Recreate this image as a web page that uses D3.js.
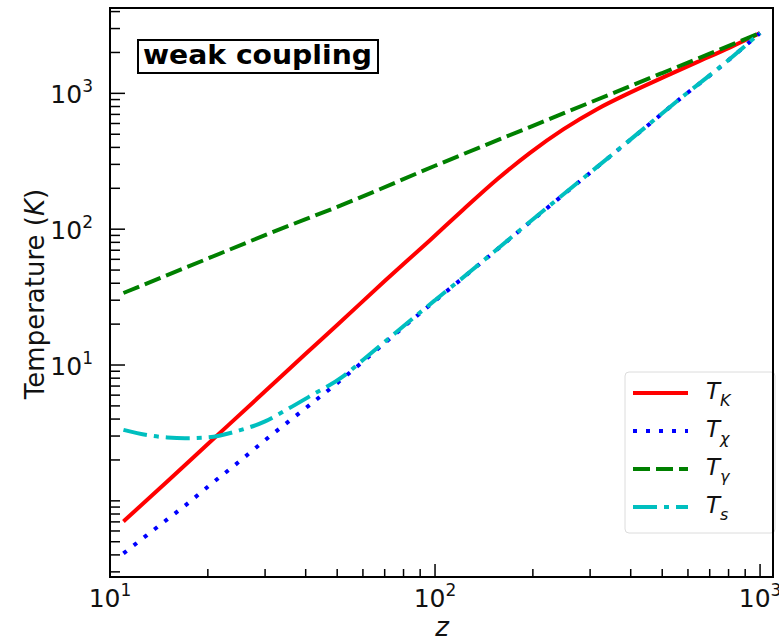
<!DOCTYPE html>
<html>
<head>
<meta charset="utf-8">
<script src="https://cdn.jsdelivr.net/npm/d3@7"></script>
<style>
  body { margin: 0; background: #fff; }
  svg { display: block; font-family: 'DejaVu Sans', sans-serif; }
</style>
</head>
<body>
<div id="chart"></div>
<script>
// values (z, temperature in K)
const zKinetic = [11, 15, 20, 30, 40, 50, 70, 96.5, 122, 155, 196, 248, 315, 398, 503, 640, 809, 1000];
const tKinetic = [0.705, 1.39, 2.62, 6.4, 12.1, 19.7, 41.5, 83, 139, 232, 365, 543, 765, 1012, 1310, 1697, 2180, 2780];

const zChi = [11, 13, 15, 17, 20, 25, 30, 35, 41, 52, 60, 70, 85, 100, 130, 170, 240, 300, 420, 570, 740, 1000];
const tChi = [0.41, 0.56, 0.73, 0.92, 1.27, 1.95, 2.8, 3.75, 5.05, 7.95, 10.6, 14.5, 21.5, 29.7, 49.8, 85, 168, 260, 503, 920, 1505, 2780];

const zGamma = [11, 20, 30, 55, 100, 200, 300, 500, 700, 1000];
const tGamma = [33.9, 60.8, 90.4, 160, 293, 577, 857, 1411, 1960, 2780];

const zSpin = [11, 13, 15, 17, 20, 25, 30, 35, 41, 52, 60, 70, 85, 100, 130, 170, 240, 300, 420, 570, 740, 1000];
const tSpin = [3.33, 3.05, 2.93, 2.89, 2.93, 3.3, 3.85, 4.7, 5.85, 8.2, 10.9, 14.8, 21.8, 30, 50, 85.5, 169, 261, 505, 922, 1510, 2780];

const legendSubs = ['K', 'χ', 'γ', 's'];
const xLabelTicks = [10, 100, 1000];
const yLabelTicks = [10, 100, 1000];

const width = 779;
const height = 642;
const plot = { left: 110, right: 773, top: 8, bottom: 577 };

const series = [
  { z: zKinetic, t: tKinetic, color: '#ff0000', dash: null },
  { z: zChi, t: tChi, color: '#0000ff', dash: '4,9' },
  { z: zGamma, t: tGamma, color: '#008000', dash: '17,6' },
  { z: zSpin, t: tSpin, color: '#00bfbf', dash: '24,7,5,7' }
];

const x = d3.scaleLog().domain([10, 1096]).range([plot.left, plot.right]);
const y = d3.scaleLog().domain([0.275, 4250]).range([plot.bottom, plot.top]);

const svg = d3.select('#chart').append('svg')
  .attr('width', width)
  .attr('height', height);

svg.append('defs').append('clipPath')
  .attr('id', 'plot-clip')
  .append('rect')
  .attr('x', plot.left)
  .attr('y', plot.top)
  .attr('width', plot.right - plot.left)
  .attr('height', plot.bottom - plot.top);

const line = d3.line()
  .x(d => x(d[0]))
  .y(d => y(d[1]))
  .curve(d3.curveMonotoneX);

svg.append('g')
  .attr('clip-path', 'url(#plot-clip)')
  .selectAll('path')
  .data(series)
  .enter()
  .append('path')
  .attr('d', s => line(d3.zip(s.z, s.t)))
  .attr('fill', 'none')
  .attr('stroke', s => s.color)
  .attr('stroke-width', 4)
  .attr('stroke-dasharray', s => s.dash);

// legend
const legend = svg.append('g');
legend.append('rect')
  .attr('x', 625)
  .attr('y', 372)
  .attr('width', 150)
  .attr('height', 161)
  .attr('rx', 4)
  .attr('fill', '#fff')
  .attr('fill-opacity', 0.8)
  .attr('stroke', '#dcdcdc');

series.forEach((s, i) => {
  const ly = 393 + i * 38;
  legend.append('line')
    .attr('x1', 633)
    .attr('x2', 688)
    .attr('y1', ly)
    .attr('y2', ly)
    .attr('stroke', s.color)
    .attr('stroke-width', 4)
    .attr('stroke-dasharray', s.dash);
  const t = legend.append('text')
    .attr('x', 706)
    .attr('y', ly + 6)
    .attr('font-size', 23)
    .attr('font-style', 'italic')
    .attr('fill', '#111');
  t.append('tspan').text('T');
  t.append('tspan')
    .attr('dy', 7)
    .attr('font-size', 16)
    .text(legendSubs[i]);
});

// ticks, pointing inward
const ticks = svg.append('g').attr('stroke', '#000').attr('stroke-width', 1.5);
const isMajorX = v => xLabelTicks.includes(v);
const isMajorY = v => yLabelTicks.includes(v);

ticks.selectAll('.xt')
  .data(x.ticks().filter(v => v >= 10 && v <= 1096))
  .enter()
  .append('line')
  .attr('x1', d => x(d))
  .attr('x2', d => x(d))
  .attr('y1', plot.bottom)
  .attr('y2', d => plot.bottom - (isMajorX(d) ? 13 : 8));

ticks.selectAll('.yt')
  .data(y.ticks().filter(v => v >= 0.275 && v <= 4250))
  .enter()
  .append('line')
  .attr('y1', d => y(d))
  .attr('y2', d => y(d))
  .attr('x1', plot.left)
  .attr('x2', d => plot.left + (isMajorY(d) ? 15 : 10));

svg.append('rect')
  .attr('x', plot.left)
  .attr('y', plot.top)
  .attr('width', plot.right - plot.left)
  .attr('height', plot.bottom - plot.top)
  .attr('fill', 'none')
  .attr('stroke', '#000')
  .attr('stroke-width', 2);

// tick labels like 10^n
const powLabel = (sel, v) => {
  sel.append('tspan').text('10');
  sel.append('tspan')
    .attr('dy', -11)
    .attr('font-size', 17)
    .text(Math.round(Math.log10(v)));
};

svg.selectAll('.xl')
  .data(xLabelTicks)
  .enter()
  .append('text')
  .attr('x', d => x(d))
  .attr('y', 607)
  .attr('text-anchor', 'middle')
  .attr('font-size', 25)
  .attr('fill', '#111')
  .each(function (d) { powLabel(d3.select(this), d); });

svg.selectAll('.yl')
  .data(yLabelTicks)
  .enter()
  .append('text')
  .attr('x', 93)
  .attr('y', d => y(d) + 10)
  .attr('text-anchor', 'end')
  .attr('font-size', 25)
  .attr('fill', '#111')
  .each(function (d) { powLabel(d3.select(this), d); });

// axis titles
const yTitle = svg.append('text')
  .attr('transform', 'translate(44, 294) rotate(-90)')
  .attr('text-anchor', 'middle')
  .attr('font-size', 26)
  .attr('fill', '#111');
yTitle.append('tspan').text('Temperature (');
yTitle.append('tspan').attr('font-style', 'italic').text('K');
yTitle.append('tspan').text(')');

svg.append('text')
  .attr('x', 442)
  .attr('y', 636)
  .attr('text-anchor', 'middle')
  .attr('font-size', 26)
  .attr('font-style', 'italic')
  .attr('fill', '#111')
  .text('z');

// annotation box
svg.append('rect')
  .attr('x', 138)
  .attr('y', 40)
  .attr('width', 240)
  .attr('height', 33)
  .attr('fill', '#fff')
  .attr('stroke', '#000')
  .attr('stroke-width', 2);

svg.append('text')
  .attr('x', 143)
  .attr('y', 64)
  .attr('font-size', 26)
  .attr('font-weight', 'bold')
  .attr('textLength', 229)
  .attr('lengthAdjust', 'spacingAndGlyphs')
  .attr('fill', '#000')
  .text('weak coupling');
</script>
</body>
</html>
